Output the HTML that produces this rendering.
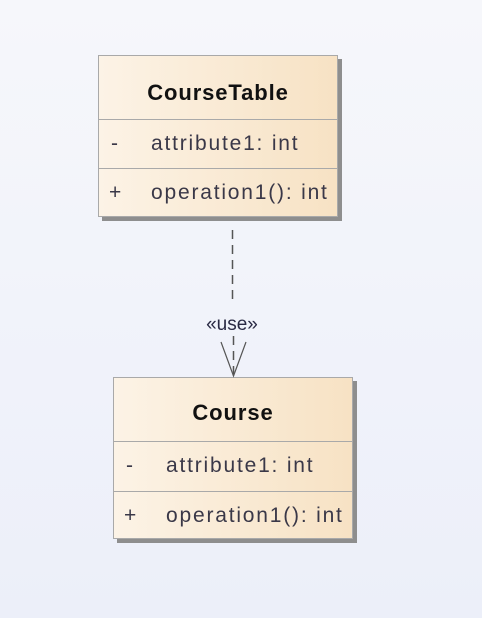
<!DOCTYPE html>
<html><head><style>
html,body{margin:0;padding:0}
body{width:482px;height:618px;background:linear-gradient(#f6f7fb,#eceff9);position:relative;overflow:hidden;font-family:"Liberation Sans",sans-serif}
.box{position:absolute;background:linear-gradient(90deg,#fcf3e6,#f7e2c4);border:1px solid #a9a9a9;box-shadow:4px 4px 0 #8e8e8e;box-sizing:border-box}
.t{position:absolute;left:0;right:0;text-align:center;font-weight:bold;font-size:22px;letter-spacing:0.9px;line-height:26px;color:#111}
.d{position:absolute;left:0;right:0;height:0;border-top:1px solid #a9a9a9}
.r{position:absolute;font-size:21px;letter-spacing:1.8px;line-height:24px;color:#3a3848;white-space:nowrap}
</style></head><body>
<div class="box" style="left:98px;top:55px;width:240px;height:162px">
 <div class="t" style="top:24px">CourseTable</div>
 <div class="d" style="top:63px"></div>
 <div class="r" style="left:12px;top:76px">-</div>
 <div class="r" style="left:52px;top:76px">attribute1: int</div>
 <div class="d" style="top:112px"></div>
 <div class="r" style="left:10px;top:125px">+</div>
 <div class="r" style="left:52px;top:125px">operation1(): int</div>
</div>
<div class="box" style="left:113px;top:377px;width:240px;height:162px">
 <div class="t" style="top:22px">Course</div>
 <div class="d" style="top:63px"></div>
 <div class="r" style="left:12px;top:76px">-</div>
 <div class="r" style="left:52px;top:76px">attribute1: int</div>
 <div class="d" style="top:113px"></div>
 <div class="r" style="left:10px;top:126px">+</div>
 <div class="r" style="left:52px;top:126px">operation1(): int</div>
</div>
<svg width="482" height="618" style="position:absolute;left:0;top:0">
 <line x1="232.5" y1="230" x2="232.5" y2="300" stroke="#555" stroke-width="1.5" stroke-dasharray="9,6"/>
 <line x1="233.5" y1="336" x2="233.5" y2="374" stroke="#555" stroke-width="1.5" stroke-dasharray="9,6"/>
 <polyline points="221,342 233.5,376 246,342" fill="none" stroke="#555" stroke-width="1.2"/>
 <text x="232" y="330" text-anchor="middle" font-family="Liberation Sans" font-size="19" fill="#2a2a44">«use»</text>
</svg>
</body></html>
